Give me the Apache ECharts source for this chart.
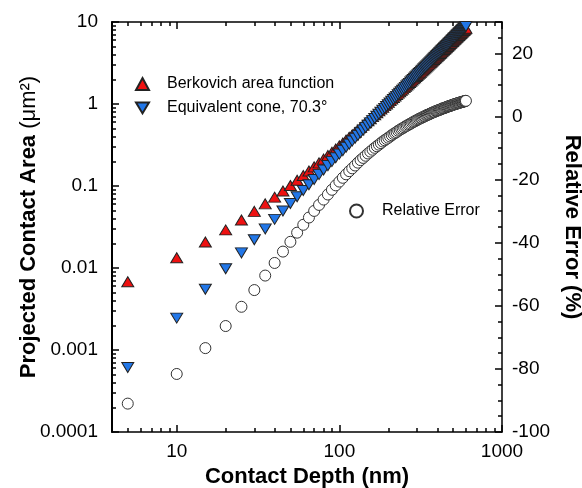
<!DOCTYPE html>
<html>
<head>
<meta charset="utf-8">
<title>Contact area vs depth</title>
<script src="https://cdn.jsdelivr.net/npm/echarts@6/dist/echarts.min.js"></script>
<style>
html, body { margin: 0; padding: 0; background: #fff; }
#chart { width: 582px; height: 488px; }
</style>
</head>
<body>
<div id="chart"></div>
<script>
//contact depth (nm)
var depth = [5, 10, 15, 20, 25, 30, 35, 40, 45, 50, 55, 60, 65, 70, 75, 80, 85, 90, 95, 100,
	105, 110, 115, 120, 125, 130, 135, 140, 145, 150, 155, 160, 165, 170, 175, 180, 185, 190, 195, 200,
	205, 210, 215, 220, 225, 230, 235, 240, 245, 250, 255, 260, 265, 270, 275, 280, 285, 290, 295, 300,
	305, 310, 315, 320, 325, 330, 335, 340, 345, 350, 355, 360, 365, 370, 375, 380, 385, 390, 395, 400,
	405, 410, 415, 420, 425, 430, 435, 440, 445, 450, 455, 460, 465, 470, 475, 480, 485, 490, 495, 500,
	505, 510, 515, 520, 525, 530, 535, 540, 545, 550, 555, 560, 565, 570, 575, 580, 585, 590, 595, 600];

//Berkovich area function (um^2)
var berkovich = [0.00680, 0.01334, 0.02075, 0.02914, 0.03856, 0.04902, 0.06054, 0.07312, 0.08679, 0.1015,
	0.1173, 0.1342, 0.1522, 0.1713, 0.1914, 0.2127, 0.2350, 0.2584, 0.2829, 0.3085,
	0.3352, 0.3629, 0.3919, 0.4218, 0.4528, 0.4850, 0.5181, 0.5525, 0.5881, 0.6246,
	0.6621, 0.7009, 0.7405, 0.7815, 0.8235, 0.8667, 0.9107, 0.9559, 1.002, 1.050,
	1.099, 1.148, 1.199, 1.251, 1.304, 1.357, 1.413, 1.469, 1.526, 1.585,
	1.644, 1.705, 1.767, 1.830, 1.894, 1.958, 2.024, 2.092, 2.160, 2.229,
	2.300, 2.372, 2.444, 2.518, 2.593, 2.669, 2.746, 2.824, 2.903, 2.983,
	3.065, 3.148, 3.231, 3.316, 3.402, 3.489, 3.577, 3.666, 3.756, 3.847,
	3.940, 4.033, 4.128, 4.223, 4.321, 4.417, 4.517, 4.617, 4.719, 4.822,
	4.923, 5.028, 5.133, 5.240, 5.350, 5.458, 5.568, 5.678, 5.790, 5.903,
	6.019, 6.133, 6.249, 6.368, 6.486, 6.607, 6.726, 6.850, 6.971, 7.097,
	7.223, 7.348, 7.476, 7.606, 7.733, 7.865, 7.998, 8.128, 8.263, 8.399];

//equivalent cone 70.3 deg (um^2)
var cone = [0.000613, 0.00245, 0.00551, 0.0098, 0.0153, 0.0221, 0.0300, 0.0392, 0.0496, 0.0613,
	0.0741, 0.0882, 0.1035, 0.1201, 0.1378, 0.1568, 0.1770, 0.1985, 0.2211, 0.245,
	0.2701, 0.2965, 0.3240, 0.3528, 0.3828, 0.4141, 0.4465, 0.4802, 0.5151, 0.5513,
	0.5886, 0.6272, 0.6670, 0.7081, 0.7503, 0.7938, 0.8385, 0.8845, 0.9316, 0.98,
	1.030, 1.080, 1.133, 1.186, 1.240, 1.296, 1.353, 1.411, 1.471, 1.531,
	1.593, 1.656, 1.721, 1.786, 1.853, 1.921, 1.990, 2.060, 2.132, 2.205,
	2.279, 2.354, 2.431, 2.509, 2.588, 2.668, 2.750, 2.832, 2.916, 3.001,
	3.088, 3.175, 3.264, 3.354, 3.445, 3.538, 3.632, 3.726, 3.823, 3.920,
	4.019, 4.118, 4.220, 4.322, 4.425, 4.530, 4.636, 4.743, 4.852, 4.961,
	5.072, 5.184, 5.298, 5.412, 5.528, 5.645, 5.763, 5.882, 6.003, 6.125,
	6.248, 6.372, 6.498, 6.625, 6.753, 6.882, 7.013, 7.144, 7.277, 7.411,
	7.547, 7.683, 7.821, 7.960, 8.100, 8.242, 8.384, 8.528, 8.674, 8.820];

//relative error (%)
var relError = [-91.0, -81.6, -73.4, -66.4, -60.3, -55.0, -50.4, -46.4, -42.8, -39.7,
	-36.8, -34.3, -32.0, -29.9, -28.0, -26.3, -24.7, -23.2, -21.8, -20.6,
	-19.4, -18.3, -17.3, -16.4, -15.5, -14.6, -13.8, -13.1, -12.4, -11.7,
	-11.1, -10.5, -9.9, -9.4, -8.9, -8.4, -7.9, -7.5, -7.1, -6.7,
	-6.3, -5.9, -5.5, -5.2, -4.9, -4.5, -4.2, -3.9, -3.7, -3.4,
	-3.1, -2.9, -2.6, -2.4, -2.2, -1.9, -1.7, -1.5, -1.3, -1.1,
	-0.9, -0.7, -0.5, -0.4, -0.2, 0.0, 0.1, 0.3, 0.5, 0.6,
	0.7, 0.9, 1.0, 1.2, 1.3, 1.4, 1.5, 1.7, 1.8, 1.9,
	2.0, 2.1, 2.2, 2.3, 2.4, 2.6, 2.6, 2.7, 2.8, 2.9,
	3.0, 3.1, 3.2, 3.3, 3.3, 3.4, 3.5, 3.6, 3.7, 3.8,
	3.8, 3.9, 4.0, 4.0, 4.1, 4.2, 4.3, 4.3, 4.4, 4.4,
	4.5, 4.6, 4.6, 4.7, 4.7, 4.8, 4.8, 4.9, 5.0, 5.0];

//axis ranges and labelled ticks
var xRange = [4, 1000];
var areaRange = [0.0001, 10];
var errRange = [-100, 30];
var xTickLabels = ['10', '100', '1000'];
var areaTickLabels = ['0.0001', '0.001', '0.01', '0.1', '1', '10'];
var errTickLabels = ['-100', '-80', '-60', '-40', '-20', '0', '20'];

var FONT = '"Liberation Sans", Arial, sans-serif';

var pairs = function(xs, ys) {
	var out = [];
	for(var i = 0; i < xs.length; i++) {
		out.push([xs[i], ys[i]]);
	}
	return out;
};

var frameLine = function(w) {
	return { show: true, onZero: false, lineStyle: { color: '#000', width: w } };
};

//major and minor ticks point inward
var majorTick = { show: true, inside: true, length: 7, lineStyle: { color: '#000', width: 1.5 } };
var minorTick = function(n) {
	return { show: true, splitNumber: n, length: 4, lineStyle: { color: '#000', width: 1.5 } };
};

//only print the values listed in the tick label arrays
var numLabel = function(labels, margin) {
	return {
		show: true,
		margin: margin,
		color: '#000',
		fontSize: 19,
		fontFamily: FONT,
		formatter: function(v) {
			var s = String(+Number(v).toPrecision(6));
			return labels.indexOf(s) >= 0 ? s : '';
		}
	};
};

var legendText = function(pad) {
	return { fontSize: 16, fontFamily: FONT, color: '#000', padding: [0, 0, 0, pad], lineHeight: 16 };
};

var chart = echarts.init(document.getElementById('chart'), null, { renderer: 'canvas' });

var option = {
	animation: false,
	backgroundColor: '#fff',
	grid: { left: 112, right: 80, top: 22, bottom: 56, outerBoundsMode: 'none', containLabel: false },
	legend: [{
		data: ['Berkovich area function'],
		left: 135, top: 76, padding: 0,
		itemWidth: 13, itemHeight: 12,
		textStyle: legendText(13)
	}, {
		data: [{ name: 'Equivalent cone, 70.3°', icon: 'path://M0,0L12,0L6,10Z' }],
		left: 135, top: 100, padding: 0,
		itemWidth: 13, itemHeight: 12,
		textStyle: legendText(13)
	}, {
		data: ['Relative Error'],
		left: 349, top: 203, padding: 0,
		itemWidth: 13, itemHeight: 13,
		textStyle: legendText(14)
	}],
	xAxis: [{
		type: 'log', position: 'bottom', min: xRange[0], max: xRange[1],
		name: 'Contact Depth (nm)', nameLocation: 'middle', nameGap: 34,
		nameTextStyle: { fontSize: 22, fontWeight: 'bold', fontFamily: FONT, color: '#000' },
		axisLine: frameLine(1.5),
		axisTick: majorTick,
		minorTick: minorTick(9),
		axisLabel: numLabel(xTickLabels, 10),
		splitLine: { show: false }
	}, {
		type: 'log', position: 'top', min: xRange[0], max: xRange[1],
		axisLine: frameLine(1.5),
		axisTick: majorTick,
		minorTick: minorTick(9),
		axisLabel: { show: false },
		splitLine: { show: false }
	}],
	yAxis: [{
		type: 'log', position: 'left', min: areaRange[0], max: areaRange[1],
		name: '{b|Projected Contact Area }{n|(μm²)}', nameLocation: 'middle', nameGap: 72,
		nameMoveOverlap: false,
		nameTextStyle: {
			color: '#000',
			rich: {
				b: { fontSize: 22, fontWeight: 'bold', fontFamily: FONT, color: '#000' },
				n: { fontSize: 22, fontFamily: FONT, color: '#000' }
			}
		},
		axisLine: frameLine(2),
		axisTick: majorTick,
		minorTick: minorTick(9),
		axisLabel: numLabel(areaTickLabels, 14),
		splitLine: { show: false }
	}, {
		type: 'value', position: 'right', min: errRange[0], max: errRange[1], interval: 20,
		name: 'Relative Error (%)', nameLocation: 'middle', nameGap: 54, nameRotate: -90,
		nameTextStyle: { fontSize: 22, fontWeight: 'bold', fontFamily: FONT, color: '#000' },
		axisLine: frameLine(1.5),
		axisTick: majorTick,
		minorTick: minorTick(4),
		axisLabel: numLabel(errTickLabels, 10),
		splitLine: { show: false }
	}],
	series: [{
		name: 'Berkovich area function',
		type: 'scatter',
		xAxisIndex: 0, yAxisIndex: 0,
		symbol: 'triangle',
		symbolSize: [12, 10],
		itemStyle: { color: '#EE1111', borderColor: '#222', borderWidth: 1, opacity: 1 },
		data: pairs(depth, berkovich)
	}, {
		name: 'Equivalent cone, 70.3°',
		type: 'scatter',
		xAxisIndex: 0, yAxisIndex: 0,
		symbol: 'triangle',
		symbolRotate: 180,
		symbolSize: [12, 10],
		itemStyle: { color: '#2277E8', borderColor: '#222', borderWidth: 1, opacity: 1 },
		data: pairs(depth, cone)
	}, {
		name: 'Relative Error',
		type: 'scatter',
		xAxisIndex: 0, yAxisIndex: 1,
		symbol: 'circle',
		symbolSize: 11,
		itemStyle: { color: '#fff', borderColor: '#333', borderWidth: 1, opacity: 1 },
		data: pairs(depth, relError)
	}]
};

chart.setOption(option);
</script>
</body>
</html>
